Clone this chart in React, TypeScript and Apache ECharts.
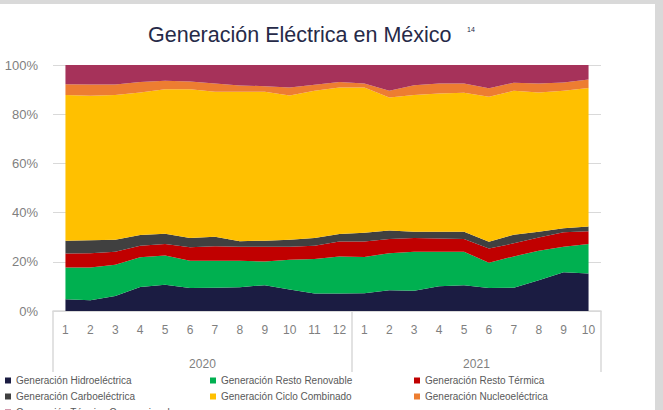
import React, { useEffect, useRef } from "react";
import * as echarts from "echarts";

const months = ["1", "2", "3", "4", "5", "6", "7", "8", "9", "10", "11", "12", "1", "2", "3", "4", "5", "6", "7", "8", "9", "10"];
const years = ["2020", "2021"];
const yearSplits = [0, 12, 22];
const yearCenters = [6, 17];

const hidro = [4.8, 4.4, 6.1, 9.8, 10.7, 9.3, 9.5, 9.7, 10.5, 8.7, 7.1, 7.1, 7.2, 8.4, 8.2, 10.1, 10.5, 9.3, 9.5, 12.5, 15.8, 15.2];
const restoRenovable = [12.9, 13.3, 12.7, 12.0, 11.9, 11.1, 10.9, 10.7, 9.6, 12.1, 14.0, 15.1, 14.8, 15.1, 15.9, 14.0, 13.6, 10.3, 12.7, 12.0, 10.3, 12.0];
const restoTermica = [5.7, 5.8, 5.3, 4.7, 4.6, 5.5, 5.9, 5.7, 6.0, 5.3, 5.4, 6.1, 6.3, 5.8, 5.6, 5.4, 5.2, 5.8, 5.3, 5.4, 5.9, 5.2];
const carbo = [5.2, 5.3, 4.9, 4.4, 4.2, 3.8, 3.9, 2.3, 2.5, 2.9, 3.2, 3.0, 3.5, 3.4, 2.5, 2.7, 2.9, 2.8, 3.5, 2.3, 1.6, 1.9];
const ciclo = [59.2, 58.7, 58.8, 57.9, 58.7, 60.4, 58.9, 60.7, 60.5, 58.6, 59.8, 59.6, 59.1, 54.1, 55.6, 56.2, 56.5, 58.9, 58.5, 56.6, 55.9, 56.4];
const nucleo = [4.4, 4.6, 4.3, 4.3, 3.5, 3.2, 3.4, 2.6, 2.3, 3.3, 2.5, 2.2, 1.6, 2.7, 4.0, 4.1, 3.8, 3.4, 3.3, 3.7, 3.4, 3.4];
const termicaConv = [7.8, 7.9, 7.9, 6.9, 6.4, 6.7, 7.5, 8.3, 8.6, 9.1, 8.0, 6.9, 7.5, 10.5, 8.2, 7.5, 7.5, 9.5, 7.2, 7.5, 7.1, 5.9];

const yTicks = [0, 20, 40, 60, 80, 100];

const names = [
  "Generación Hidroeléctrica",
  "Generación Resto Renovable",
  "Generación Resto Térmica",
  "Generación Carboeléctrica",
  "Generación Ciclo Combinado",
  "Generación Nucleoeléctrica",
  "Generación Térmica Convencional",
];
const colors = ["#1B1C42", "#00B050", "#C00000", "#404040", "#FFC000", "#ED7D31", "#A6325A"];
const seriesData = [hidro, restoRenovable, restoTermica, carbo, ciclo, nucleo, termicaConv];

const FONT = "'Liberation Sans', Arial, sans-serif";

export default function App() {
  const ref = useRef<HTMLDivElement>(null);
  useEffect(() => {
    if (!ref.current) return;
    const chart = echarts.init(ref.current, undefined, { renderer: "svg" });
    const legendText = { fontSize: 10, color: "#595959", fontFamily: FONT, lineHeight: 11 };
    const mkLegend = (left: number, data: string[]) => ({
      left,
      top: 375,
      height: 80,
      orient: "vertical",
      itemWidth: 6,
      itemHeight: 6,
      itemGap: 5,
      padding: 0,
      icon: "rect",
      textStyle: legendText,
      data,
    });
    chart.setOption({
      animation: false,
      backgroundColor: "#ffffff",
      textStyle: { fontFamily: FONT },
      title: [
        {
          text: "Generación Eléctrica en México",
          left: 148,
          top: 24,
          padding: 0,
          textStyle: { fontSize: 21.5, fontWeight: "normal", color: "#262A48", fontFamily: FONT },
        },
        {
          text: "14",
          left: 467,
          top: 26,
          padding: 0,
          textStyle: { fontSize: 7, fontWeight: "normal", color: "#262A48", fontFamily: FONT },
        },
      ],
      legend: [
        mkLegend(5, [names[0], names[3], names[6]]),
        mkLegend(210, [names[1], names[4]]),
        mkLegend(414, [names[2], names[5]]),
      ],
      grid: { left: 53, right: 62, top: 65, bottom: 99 },
      xAxis: [
        {
          type: "category",
          data: months,
          boundaryGap: true,
          position: "bottom",
          axisLine: { show: true, lineStyle: { color: "#D9D9D9", width: 1.5 } },
          axisTick: { show: false },
          axisLabel: { interval: 0, color: "#7F7F7F", fontSize: 12, margin: 13, fontFamily: FONT },
          splitLine: { show: false },
        },
        {
          type: "value",
          min: 0,
          max: months.length,
          position: "bottom",
          axisLine: { show: false },
          splitLine: { show: false },
          axisTick: {
            show: true,
            customValues: yearSplits,
            length: 61,
            lineStyle: { color: "#D9D9D9", width: 1.5 },
          },
          axisLabel: {
            customValues: yearCenters,
            formatter: (v: number) => (v < 12 ? years[0] : years[1]),
            color: "#7F7F7F",
            fontSize: 12,
            margin: 47,
            fontFamily: FONT,
          },
        },
      ],
      yAxis: {
        type: "value",
        min: yTicks[0],
        max: yTicks[yTicks.length - 1],
        interval: 20,
        axisLine: { show: false },
        axisTick: { show: false },
        axisLabel: { formatter: "{value}%", color: "#7F7F7F", fontSize: 13, margin: 15, fontFamily: FONT },
        splitLine: { show: true, lineStyle: { color: "#D9D9D9", width: 1 } },
      },
      series: seriesData.map((d, i) => ({
        name: names[i],
        type: "line",
        stack: "total",
        data: d,
        xAxisIndex: 0,
        yAxisIndex: 0,
        symbol: "none",
        lineStyle: { width: 0, color: colors[i] },
        itemStyle: { color: colors[i] },
        areaStyle: { color: colors[i], opacity: 1 },
        emphasis: { disabled: true },
      })),
      graphic: [
        { type: "rect", left: 0, top: 0, shape: { width: 663, height: 4 }, style: { fill: "#D9D9D9" }, z: 100 },
        { type: "rect", right: 0, top: 0, shape: { width: 8, height: 410 }, style: { fill: "#D9D9D9" }, z: 100 },
      ],
    });
    return () => chart.dispose();
  }, []);
  return (
    <div style={{ position: "fixed", left: 0, top: 0, width: 663, height: 410, background: "#fff" }}>
      <div ref={ref} style={{ width: 663, height: 410 }} />
    </div>
  );
}
